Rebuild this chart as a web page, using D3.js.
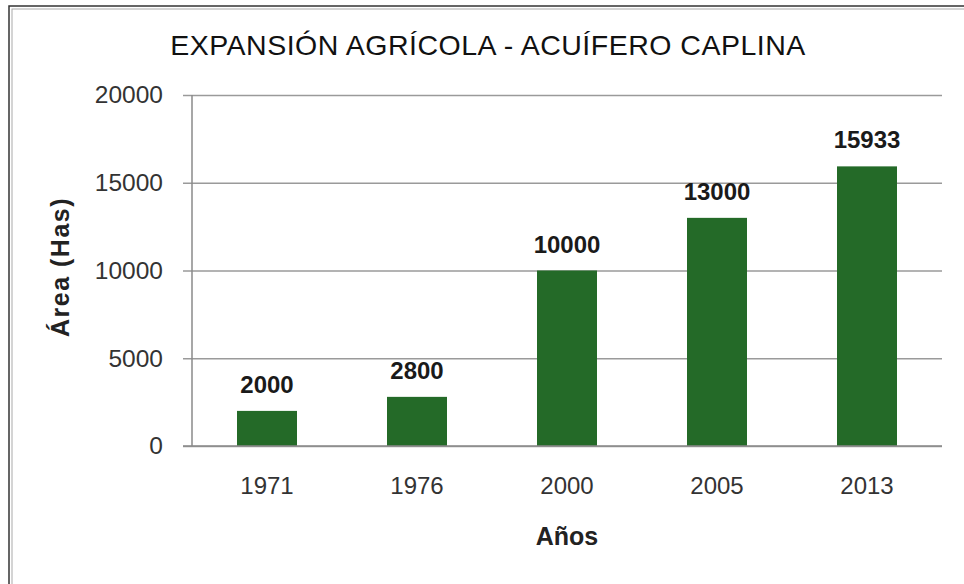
<!DOCTYPE html>
<html>
<head>
<meta charset="utf-8">
<script src="https://cdn.jsdelivr.net/npm/d3@7"></script>
<style>
  body { margin: 0; background: #fff; }
  svg { display: block; font-family: Arial, "Liberation Sans", sans-serif; }
</style>
</head>
<body>
<svg width="964" height="584"></svg>
<script>
const years = ['1971', '1976', '2000', '2005', '2013']
const areas = [2000, 2800, 10000, 13000, 15933]
const yTicks = [0, 5000, 10000, 15000, 20000]

const svg = d3.select('svg')
const plotLeft = 192, plotRight = 942, plotTop = 95, plotBottom = 446

// outer frame (double line)
svg.append('rect')
  .attr('x', 9).attr('y', 6).attr('width', 1000).attr('height', 700)
  .attr('fill', 'none').attr('stroke', '#333').attr('stroke-width', 1.5)
svg.append('rect')
  .attr('x', 12).attr('y', 9).attr('width', 1000).attr('height', 700)
  .attr('fill', 'none').attr('stroke', '#aaa').attr('stroke-width', 1)

const x = d3.scaleBand()
  .domain(years)
  .range([plotLeft, plotRight])
  .paddingInner(0.6)
  .paddingOuter(0.3)

const y = d3.scaleLinear()
  .domain([0, 20000])
  .range([plotBottom, plotTop])

// gridlines + y axis
const yAxis = d3.axisLeft(y)
  .tickValues(yTicks)
  .tickSize(-(plotRight - plotLeft))
  .tickPadding(29)
  .tickFormat(d3.format('d'))

const gy = svg.append('g')
  .attr('transform', `translate(${plotLeft},0)`)
  .call(yAxis)
gy.select('.domain').remove()
gy.selectAll('.tick line')
  .attr('x1', -9)
  .attr('stroke', '#9a9a9a')
  .attr('stroke-width', 1.5)
gy.selectAll('.tick text')
  .attr('font-size', '24.5px')
  .attr('fill', '#333')
  .attr('font-family', 'Arial, "Liberation Sans", sans-serif')

svg.append('line')
  .attr('x1', plotLeft).attr('x2', plotLeft)
  .attr('y1', plotTop).attr('y2', plotBottom)
  .attr('stroke', '#8a8a8a').attr('stroke-width', 1.5)

// bars
svg.append('g')
  .selectAll('rect')
  .data(areas)
  .join('rect')
  .attr('x', (d, i) => x(years[i]))
  .attr('y', d => y(d))
  .attr('width', x.bandwidth())
  .attr('height', d => y(0) - y(d))
  .attr('fill', '#246a28')

// value labels
svg.append('g')
  .selectAll('text')
  .data(areas)
  .join('text')
  .attr('x', (d, i) => x(years[i]) + x.bandwidth() / 2)
  .attr('y', d => y(d) - 18)
  .attr('text-anchor', 'middle')
  .attr('font-size', '24px')
  .attr('font-weight', 'bold')
  .attr('fill', '#1a1a1a')
  .text(d => d)

// x axis
const xAxis = d3.axisBottom(x).tickSize(0).tickPadding(31)
const gx = svg.append('g')
  .attr('transform', `translate(0,${plotBottom})`)
  .call(xAxis)
gx.select('.domain').remove()
gx.selectAll('.tick text')
  .attr('font-size', '24px')
  .attr('fill', '#333')
  .attr('font-family', 'Arial, "Liberation Sans", sans-serif')

svg.append('line')
  .attr('x1', plotLeft - 9).attr('x2', plotRight)
  .attr('y1', plotBottom).attr('y2', plotBottom)
  .attr('stroke', '#8a8a8a').attr('stroke-width', 1.5)

// title
svg.append('text')
  .attr('x', 488)
  .attr('y', 55)
  .attr('text-anchor', 'middle')
  .attr('font-size', '28.5px')
  .attr('letter-spacing', '0.5px')
  .attr('fill', '#111')
  .text('EXPANSIÓN AGRÍCOLA - ACUÍFERO CAPLINA')

// axis titles
svg.append('text')
  .attr('transform', 'translate(69,267) rotate(-90)')
  .attr('text-anchor', 'middle')
  .attr('font-size', '25px')
  .attr('font-weight', 'bold')
  .attr('letter-spacing', '1.5px')
  .attr('fill', '#222')
  .text('Área (Has)')

svg.append('text')
  .attr('x', (plotLeft + plotRight) / 2)
  .attr('y', 545)
  .attr('text-anchor', 'middle')
  .attr('font-size', '25px')
  .attr('font-weight', 'bold')
  .attr('fill', '#222')
  .text('Años')
</script>
</body>
</html>
